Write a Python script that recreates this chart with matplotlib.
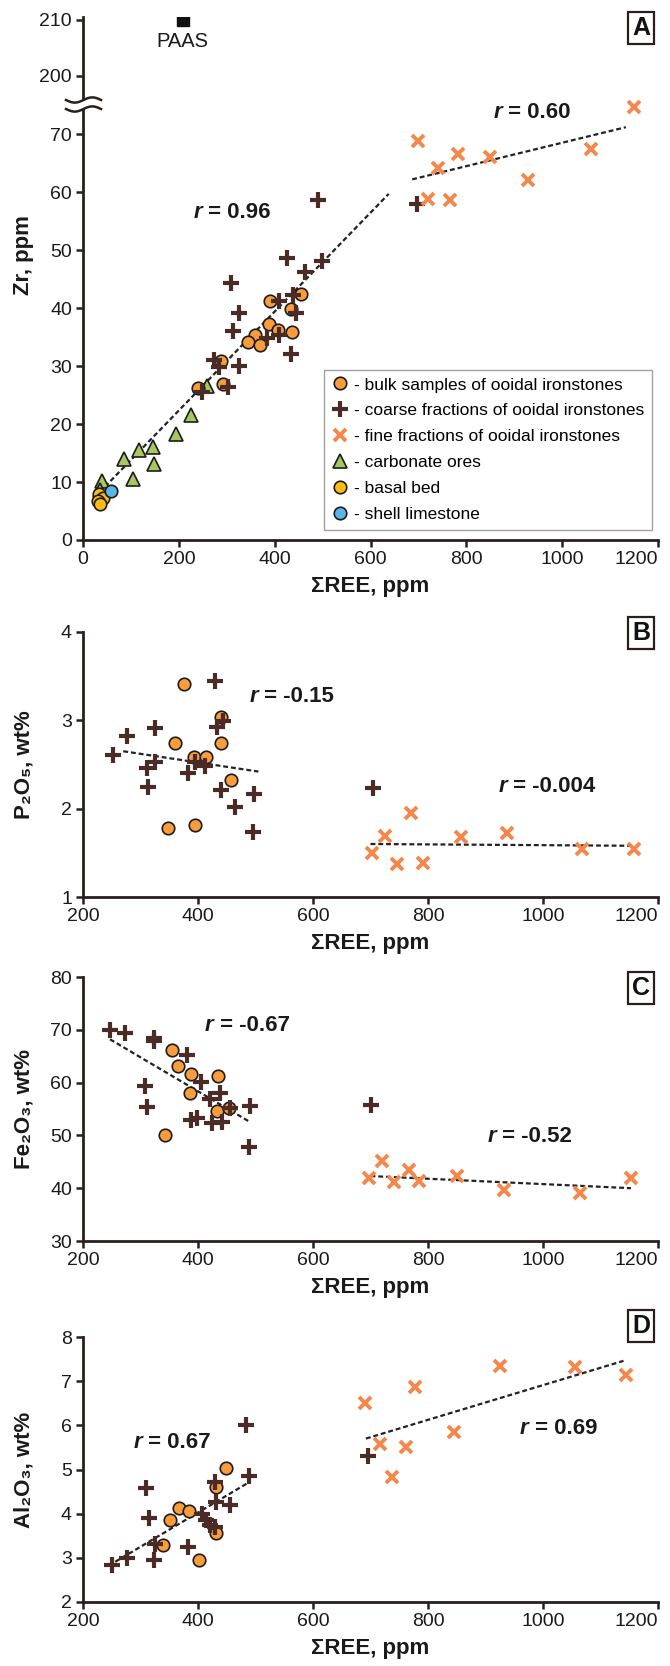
import matplotlib
matplotlib.use("Agg")

import matplotlib.pyplot as plt
from matplotlib.lines import Line2D
from matplotlib.transforms import ScaledTranslation
import numpy as np

# ── Panel A: Zr vs ΣREE ──
a_bulk_x = [390, 454, 434, 389, 407, 359, 345, 369, 437, 288, 293, 241]
a_bulk_y = [41.3, 42.5, 39.8, 37.2, 36.3, 35.4, 34.1, 33.7, 35.9, 30.8, 26.9, 26.2]
a_coarse_x = [491, 426, 498, 463, 308, 325, 409, 439, 444, 312, 383, 409, 435,
              274, 283, 325, 303, 248, 697]
a_coarse_y = [58.7, 48.6, 48.1, 46.2, 44.4, 39.2, 41.3, 42.2, 39.1, 36.1, 34.8, 35.4, 32.0,
              31.1, 29.9, 30.0, 26.4, 25.5, 58.0]
a_fine_x = [699, 740, 782, 849, 929, 1061, 1150, 721, 765]
a_fine_y = [68.8, 64.2, 66.6, 66.1, 62.1, 67.4, 74.6, 58.8, 58.6]
a_carb_x = [258, 225, 194, 146, 116, 86, 149, 104, 40, 36]
a_carb_y = [26.6, 21.6, 18.3, 16.0, 15.6, 14.0, 13.1, 10.5, 10.1, 8.7]
a_basal_x = [33, 42, 31, 35]
a_basal_y = [7.9, 7.2, 6.7, 6.2]
a_shell_x = [58]
a_shell_y = [8.4]
paas_x, paas_y = 208, 210
a_trend1 = ([46, 638], [9.2, 59.7])
a_trend2 = ([687, 1133], [62.2, 71.2])

# ── Panel B: P2O5 vs ΣREE ──
b_bulk_x = [375, 360, 440, 440, 393, 414, 457, 348, 394]
b_bulk_y = [3.41, 2.74, 3.04, 2.74, 2.59, 2.59, 2.32, 1.78, 1.81]
b_coarse_x = [252, 276, 326, 312, 325, 313, 382, 413, 395, 429, 433, 444, 440, 465, 498, 495, 705]
b_coarse_y = [2.61, 2.82, 2.91, 2.46, 2.53, 2.25, 2.40, 2.48, 2.53, 3.44, 2.93, 2.99, 2.21,
              2.02, 2.17, 1.74, 2.23]
b_fine_x = [702, 726, 746, 771, 791, 857, 937, 1067, 1159]
b_fine_y = [1.50, 1.69, 1.37, 1.95, 1.39, 1.68, 1.73, 1.54, 1.54]
b_trend1 = ([270, 505], [2.65, 2.42])
b_trend2 = ([700, 1155], [1.60, 1.58])

# ── Panel C: Fe2O3 vs ΣREE ──
c_bulk_x = [354, 365, 388, 435, 386, 433, 454, 342]
c_bulk_y = [66.2, 63.1, 61.7, 61.3, 58.1, 54.7, 55.2, 50.1]
c_coarse_x = [247, 273, 324, 324, 380, 307, 311, 405, 388, 399, 424, 438, 442, 420,
              456, 491, 488, 700]
c_coarse_y = [70.0, 69.4, 68.4, 67.8, 65.3, 59.3, 55.4, 60.2, 53.0, 53.3, 52.3, 58.0, 52.6,
              56.8, 55.2, 55.5, 47.8, 55.7]
c_fine_x = [697, 720, 740, 767, 785, 851, 932, 1064, 1153]
c_fine_y = [41.9, 45.1, 41.1, 43.4, 41.3, 42.4, 39.7, 39.1, 41.9]
c_trend1 = ([247, 491], [68.2, 52.5])
c_trend2 = ([700, 1153], [42.3, 40.0])

# ── Panel D: Al2O3 vs ΣREE ──
d_bulk_x = [339, 352, 367, 385, 402, 432, 432, 449]
d_bulk_y = [3.28, 3.86, 4.13, 4.05, 2.94, 4.60, 3.56, 5.04]
d_coarse_x = [251, 277, 310, 314, 323, 325, 382, 407, 414, 421, 429, 430, 432, 456, 484, 489, 696]
d_coarse_y = [2.83, 3.00, 4.57, 3.91, 2.94, 3.32, 3.25, 4.00, 3.85, 3.74, 3.70, 4.72, 4.26,
              4.19, 6.00, 4.85, 5.30]
d_fine_x = [691, 717, 737, 761, 778, 846, 925, 1056, 1145]
d_fine_y = [6.51, 5.57, 4.82, 5.51, 6.87, 5.85, 7.34, 7.32, 7.15]
d_trend1 = ([256, 486], [2.91, 4.69])
d_trend2 = ([692, 1140], [5.70, 7.46])

INK = "#2b1f1c"
FONT = ["Liberation Sans", "DejaVu Sans"]
plt.rcParams["font.family"] = FONT

STYLES = {
    "bulk": dict(marker="o", ms=9, mfc="#F99C3C", mec="#1c1c1c", mew=1.2),
    "coarse": dict(marker="+", ms=11, mec="#4a2b26", mew=3.0),
    "fine": dict(marker="x", ms=8.5, mec="#F4874B", mew=2.8),
    "carb": dict(marker="^", ms=10, mfc="#A8C75F", mec="#1c1c1c", mew=1.2),
    "basal": dict(marker="o", ms=9, mfc="#FDBB14", mec="#1c1c1c", mew=1.2),
    "shell": dict(marker="o", ms=9, mfc="#5CB5E6", mec="#1c1c1c", mew=1.2),
}

W, H = 670, 1666
fig = plt.figure(figsize=(W / 100, H / 100), dpi=100)
fig.patch.set_facecolor("white")


def add_axes_px(left, top, right, bottom):
    return fig.add_axes([left / W, 1 - bottom / H, (right - left) / W, (bottom - top) / H])


def style_axes(ax, xlim, ylim, xticks, yticks, bottom=True):
    ax.set_xlim(*xlim)
    ax.set_ylim(*ylim)
    ax.set_yticks(yticks)
    for s in ["top", "right"]:
        ax.spines[s].set_visible(False)
    ax.spines["left"].set_color(INK)
    ax.spines["left"].set_linewidth(2.0)
    if bottom:
        ax.set_xticks(xticks)
        ax.spines["bottom"].set_color(INK)
        ax.spines["bottom"].set_linewidth(2.0)
        # last label ("1200") sits right-aligned like in the original
        last = ax.get_xticklabels()[-1]
        last.set_horizontalalignment("right")
        last.set_transform(last.get_transform() +
                           ScaledTranslation(7 / 100, 0, fig.dpi_scale_trans))
    else:
        ax.spines["bottom"].set_visible(False)
        ax.set_xticks([])
    ax.tick_params(direction="out", length=5, width=1.8, color=INK,
                   labelsize=14, labelcolor="#1a1a1a", pad=3)
    ax.set_facecolor("none")


def series(ax, x, y, kind):
    ax.plot(x, y, ls="none", clip_on=False, zorder=3, **STYLES[kind])


def trend(ax, line):
    ax.plot(line[0], line[1], ls=(0, (2.2, 1.3)), color="#222222", lw=1.6, zorder=2)


def r_label(ax, x, y, value):
    t = ax.text(x, y, "r", style="italic", weight="bold", fontsize=16,
                va="center", ha="left", color="#1a1a1a")
    ax.annotate(f" = {value}", xy=(1, 0), xycoords=t, va="bottom", ha="left",
                weight="bold", fontsize=16, color="#1a1a1a")


def panel_letter(x, y, letter):
    fig.text(x / W, 1 - y / H, letter, ha="center", va="center", fontsize=18,
             weight="bold", color="#111111",
             bbox=dict(boxstyle="square,pad=0.15", fc="white", ec=INK, lw=1.6))


def xlab(ax):
    ax.set_xlabel("ΣREE, ppm", fontsize=16, weight="bold", labelpad=6, color="#1a1a1a")


def ylab(y_px, text):
    fig.text(24 / W, 1 - y_px / H, text, rotation=90, ha="center", va="center",
             fontsize=16, weight="bold", color="#1a1a1a")


# ── Panel A ──
axA = add_axes_px(83, 104, 658, 540)
style_axes(axA, (0, 1200), (0, 75.2), range(0, 1201, 200), range(0, 71, 10))
trend(axA, a_trend1)
trend(axA, a_trend2)
series(axA, a_carb_x, a_carb_y, "carb")
series(axA, a_basal_x, a_basal_y, "basal")
series(axA, a_shell_x, a_shell_y, "shell")
series(axA, a_bulk_x, a_bulk_y, "bulk")
series(axA, a_coarse_x, a_coarse_y, "coarse")
series(axA, a_fine_x, a_fine_y, "fine")
r_label(axA, 230, 56.4, "0.96")
r_label(axA, 856, 73.7, "0.60")
xlab(axA)

handles = [Line2D([], [], ls="none", **STYLES[k]) for k in
           ["bulk", "coarse", "fine", "carb", "basal", "shell"]]
labels = ["- bulk samples of ooidal ironstones",
          "- coarse fractions of ooidal ironstones",
          "- fine fractions of ooidal ironstones",
          "- carbonate ores", "- basal bed", "- shell limestone"]
leg = axA.legend(handles, labels, loc="lower right", bbox_to_anchor=(0.99, 0.023),
                 fontsize=12.5, frameon=True, fancybox=False, edgecolor="#8a8a8a",
                 handlelength=1.0, handletextpad=0.3, borderpad=0.45, labelspacing=0.62,
                 borderaxespad=0)
leg.get_frame().set_linewidth(1.0)

axA_top = add_axes_px(83, 17, 658, 104)
style_axes(axA_top, (0, 1200), (195.0, 210.5), [], [200, 210], bottom=False)
axA_top.plot([paas_x], [paas_y], ls="none", marker="s", ms=8.5, color="#111111")
axA_top.annotate("PAAS", xy=(paas_x, paas_y), xytext=(0, -9), textcoords="offset points",
                 ha="center", va="top", fontsize=14.5, color="#1a1a1a")

# axis break symbol
bx = np.linspace(66, 101, 60)
wave = 2.6 * np.sin((bx - 66) / 35 * 2 * np.pi)
y1 = 100 + wave
y2 = 109 + wave
fig.patches.append(plt.Polygon(
    np.column_stack([np.r_[bx, bx[::-1]] / W, 1 - np.r_[y1, y2[::-1]] / H]),
    closed=True, fc="white", ec="none", transform=fig.transFigure, zorder=5))
for yy in (y1, y2):
    fig.lines.append(Line2D(bx / W, 1 - yy / H, color=INK, lw=1.8,
                            transform=fig.transFigure, zorder=6))

ylab(255, "Zr, ppm")
panel_letter(641, 28, "A")

# ── Panel B ──
axB = add_axes_px(83, 632, 658, 897)
style_axes(axB, (200, 1200), (1, 4), range(200, 1201, 200), range(1, 5))
trend(axB, b_trend1)
trend(axB, b_trend2)
series(axB, b_bulk_x, b_bulk_y, "bulk")
series(axB, b_coarse_x, b_coarse_y, "coarse")
series(axB, b_fine_x, b_fine_y, "fine")
r_label(axB, 489, 3.27, "-0.15")
r_label(axB, 922, 2.25, "-0.004")
xlab(axB)
ylab(765, "P₂O₅, wt%")
panel_letter(641, 633, "B")

# ── Panel C ──
axC = add_axes_px(83, 977, 658, 1241)
style_axes(axC, (200, 1200), (30, 80), range(200, 1201, 200), range(30, 81, 10))
trend(axC, c_trend1)
trend(axC, c_trend2)
series(axC, c_bulk_x, c_bulk_y, "bulk")
series(axC, c_coarse_x, c_coarse_y, "coarse")
series(axC, c_fine_x, c_fine_y, "fine")
r_label(axC, 412, 70.8, "-0.67")
r_label(axC, 903, 49.7, "-0.52")
xlab(axC)
ylab(1109, "Fe₂O₃, wt%")
panel_letter(641, 988, "C")

# ── Panel D ──
axD = add_axes_px(83, 1337, 658, 1602)
style_axes(axD, (200, 1200), (2, 8), range(200, 1201, 200), range(2, 9))
trend(axD, d_trend1)
trend(axD, d_trend2)
series(axD, d_bulk_x, d_bulk_y, "bulk")
series(axD, d_coarse_x, d_coarse_y, "coarse")
series(axD, d_fine_x, d_fine_y, "fine")
r_label(axD, 288, 5.6, "0.67")
r_label(axD, 960, 5.92, "0.69")
xlab(axD)
ylab(1470, "Al₂O₃, wt%")
panel_letter(641, 1326, "D")

fig.savefig("out.png", dpi=100, facecolor="white")
